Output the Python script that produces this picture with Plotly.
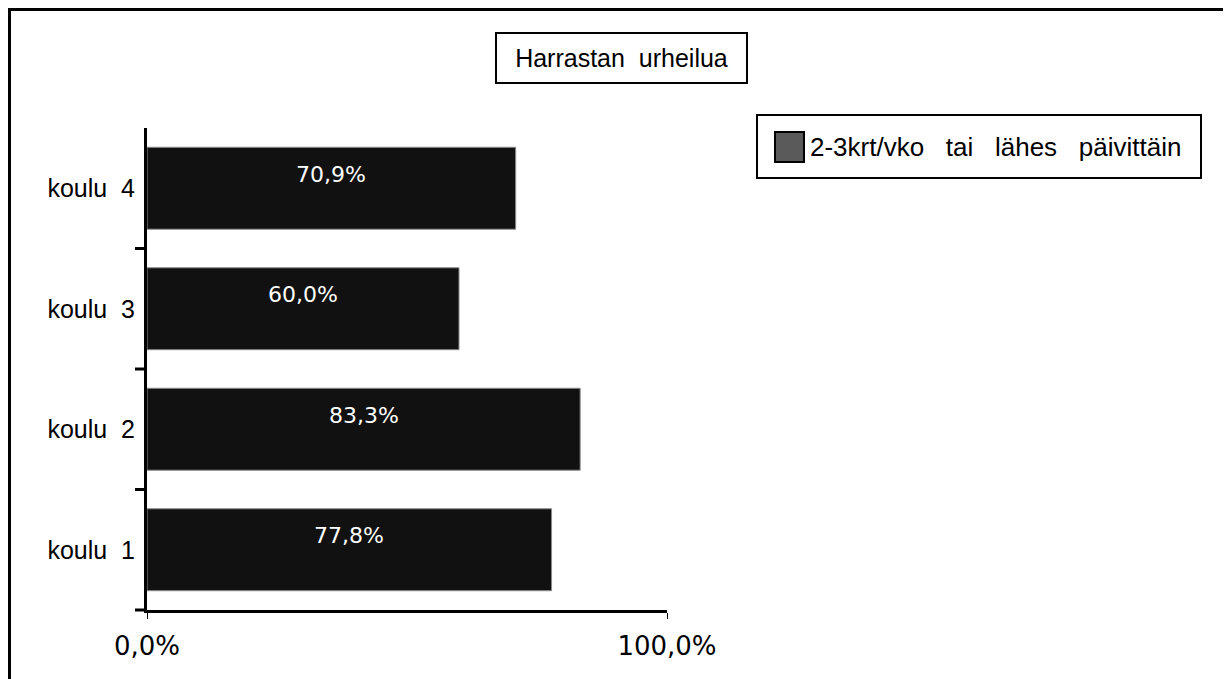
import plotly.graph_objects as go

# data
schools = ['koulu 1', 'koulu 2', 'koulu 3', 'koulu 4']
share = [77.8, 83.3, 60.0, 70.9]
value_labels = ['77,8%', '83,3%', '60,0%', '70,9%']
series_name = '2-3krt/vko   tai   lähes   päivittäin'
chart_title = 'Harrastan  urheilua'
x_ticks = [0, 100]
x_tick_labels = ['0,0%', '100,0%']

SANS = 'Liberation Sans, Arial, sans-serif'
GENEVA = 'DejaVu Sans, sans-serif'

# page body has an 8px margin, so everything is laid out 8px up/left
L, T, PW, PH = 139, 120, 520, 482


def px(fx):
    return (fx - L) / PW


def py(fy):
    return (T + PH - fy) / PH


fig = go.Figure()
fig.add_trace(go.Bar(
    x=share, y=schools, orientation='h', width=0.68,
    marker=dict(color='#111111', line=dict(color='#8c8c8c', width=1)),
    showlegend=False, hoverinfo='skip',
))

for s, v, lab in zip(schools, share, value_labels):
    fig.add_annotation(x=v / 2, y=s, text=lab, showarrow=False, yshift=14,
                       font=dict(family=GENEVA, size=22, color='white'))

# tick marks between the categories (none at the very top)
for i in range(len(schools)):
    yb = i / len(schools)
    fig.add_shape(type='line', xref='paper', yref='paper', x0=px(L - 12), x1=0,
                  y0=yb, y1=yb, line=dict(color='black', width=3))

# title box
fig.add_annotation(
    xref='paper', yref='paper', x=px(613.5), y=py(50), text=chart_title,
    xanchor='center', yanchor='middle',
    showarrow=False, font=dict(family=SANS, size=25, color='black'),
    width=231, height=30, borderpad=9,
    bordercolor='black', borderwidth=2, bgcolor='white',
)

# legend box, drawn by hand to get the large key swatch
fig.add_shape(type='rect', xref='paper', yref='paper',
              x0=px(749), x1=px(1193), y0=py(170), y1=py(107),
              line=dict(color='black', width=2), fillcolor='white')
fig.add_shape(type='rect', xref='paper', yref='paper',
              x0=px(767), x1=px(796), y0=py(154), y1=py(124),
              line=dict(color='black', width=2), fillcolor='#5a5a5a')
fig.add_annotation(xref='paper', yref='paper', x=px(800), y=py(139),
                   xanchor='left', yanchor='middle', text=series_name,
                   showarrow=False, font=dict(family=SANS, size=26, color='black'))

# outer frame of the printed chart
fig.add_shape(type='rect', xref='paper', yref='paper',
              x0=px(1.5), x1=px(1221), y0=py(720), y1=py(1.5),
              line=dict(color='black', width=3))

fig.update_layout(
    width=1231, height=679,
    margin=dict(l=L, r=1231 - L - PW, t=T, b=679 - T - PH),
    paper_bgcolor='white', plot_bgcolor='white',
    showlegend=False,
    font=dict(family=SANS, size=25, color='black'),
    xaxis=dict(range=[0, 100], tickvals=x_ticks, ticktext=x_tick_labels,
               showline=True, linecolor='black', linewidth=3,
               ticks='outside', ticklen=6, tickwidth=1, tickcolor='black',
               showgrid=True, gridcolor='black', griddash='dot', gridwidth=1,
               zeroline=False, fixedrange=True, ticklabelstandoff=5,
               tickfont=dict(family=GENEVA, size=26)),
    yaxis=dict(categoryorder='array', categoryarray=schools,
               range=[-0.5, len(schools) - 0.5], showline=True,
               linecolor='black', linewidth=3, ticks='outside', ticklen=4,
               tickcolor='rgba(0,0,0,0)', showgrid=False, fixedrange=True,
               ticktext=[s.replace(' ', '  ') for s in schools], tickvals=schools,
               ticklabelstandoff=0),
)

fig.write_html('out.html')
